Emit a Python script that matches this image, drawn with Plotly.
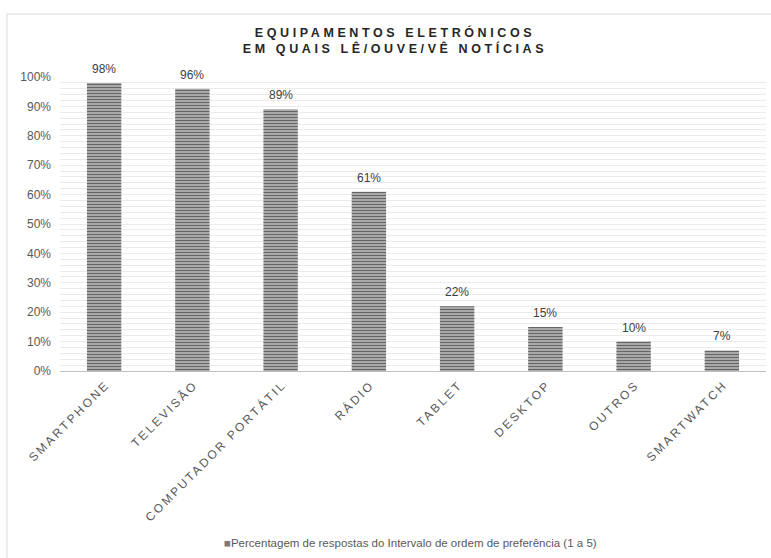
import plotly.graph_objects as go

categories = ["SMARTPHONE", "TELEVISÃO", "COMPUTADOR PORTÁTIL", "RÁDIO",
              "TABLET", "DESKTOP", "OUTROS", "SMARTWATCH"]
percentages = [98, 96, 89, 61, 22, 15, 10, 7]
y_ticks = list(range(0, 101, 10))
y_tick_labels = [f"{v}%" for v in y_ticks]
series_name = "Percentagem de respostas do Intervalo de ordem de preferência (1 a 5)"
title_lines = ["EQUIPAMENTOS ELETRÓNICOS", "EM QUAIS LÊ/OUVE/VÊ NOTÍCIAS"]

W, H = 771, 558
ml, mr, mt, mb = 60, 5, 77, 187
pw, ph = W - ml - mr, H - mt - mb
FONT = "Liberation Sans, Arial, sans-serif"

fig = go.Figure()
fig.add_trace(go.Bar(
    x=categories,
    y=percentages,
    name=series_name,
    showlegend=False,
    marker=dict(
        color="#a6a6a6",
        line=dict(width=0),
        pattern=dict(shape="-", fgcolor="#666666", bgcolor="#c9c9c9",
                     size=3, solidity=0.55, fillmode="replace"),
    ),
))

# value labels above each bar
for cat, val in zip(categories, percentages):
    fig.add_annotation(
        x=cat, y=val, xref="x", yref="y",
        text=f"{val}%", showarrow=False,
        yanchor="bottom", yshift=5,
        font=dict(family=FONT, size=12, color="#404040"),
    )

# series key under the axis labels
fig.add_annotation(
    xref="paper", yref="paper",
    x=(410 - ml) / pw, y=(mt + ph - 543) / ph,
    xanchor="center", yanchor="middle", showarrow=False,
    text=f"<span style='color:#7a7a7a'>■</span>{series_name}",
    font=dict(family=FONT, size=11.5, color="#595959"),
)

# light frame around the chart area
fig.add_shape(
    type="rect", xref="paper", yref="paper", layer="below",
    x0=(7 - ml) / pw, x1=(W + 10 - ml) / pw,
    y0=(mt + ph - (H + 10)) / ph, y1=(mt + ph - 14) / ph,
    line=dict(color="#d9d9d9", width=1), fillcolor="rgba(0,0,0,0)",
)

fig.update_layout(
    width=W, height=H,
    margin=dict(l=ml, r=mr, t=mt, b=mb),
    paper_bgcolor="white", plot_bgcolor="white",
    bargap=0.61,
    showlegend=False,
    font=dict(family=FONT, color="#595959"),
    title=dict(
        text="<b>" + "<br>".join(title_lines) + "</b>",
        x=395 / W, xref="container", xanchor="center",
        y=1 - 36.5 / H, yanchor="middle",
        font=dict(family=FONT, size=12.5, color="#262626"),
    ),
    xaxis=dict(
        tickangle=-45,
        tickfont=dict(family=FONT, size=12, color="#595959"),
        showline=True, linecolor="#bfbfbf", linewidth=1,
        ticks="", showgrid=False,
    ),
    yaxis=dict(
        range=[0, 100],
        tickvals=y_ticks, ticktext=y_tick_labels,
        tickfont=dict(family=FONT, size=12, color="#595959"),
        ticklabelstandoff=8,
        showgrid=True, gridcolor="#ebebeb", gridwidth=1,
        minor=dict(dtick=2, showgrid=True, gridcolor="#ebebeb", gridwidth=1),
        zeroline=False, showline=False, ticks="",
    ),
)

# widen the tracking of the title and category labels
spacing_js = """
var gd = document.getElementById('{plot_id}');
gd.querySelectorAll('.gtitle').forEach(function(t){ t.setAttribute('letter-spacing', '3.6px'); });
gd.querySelectorAll('.xtick text').forEach(function(t){
    t.setAttribute('letter-spacing', '2.4px');
    t.parentNode.setAttribute('transform', 'translate(2,1)');
});
"""

fig.write_html("out.html", post_script=spacing_js)
